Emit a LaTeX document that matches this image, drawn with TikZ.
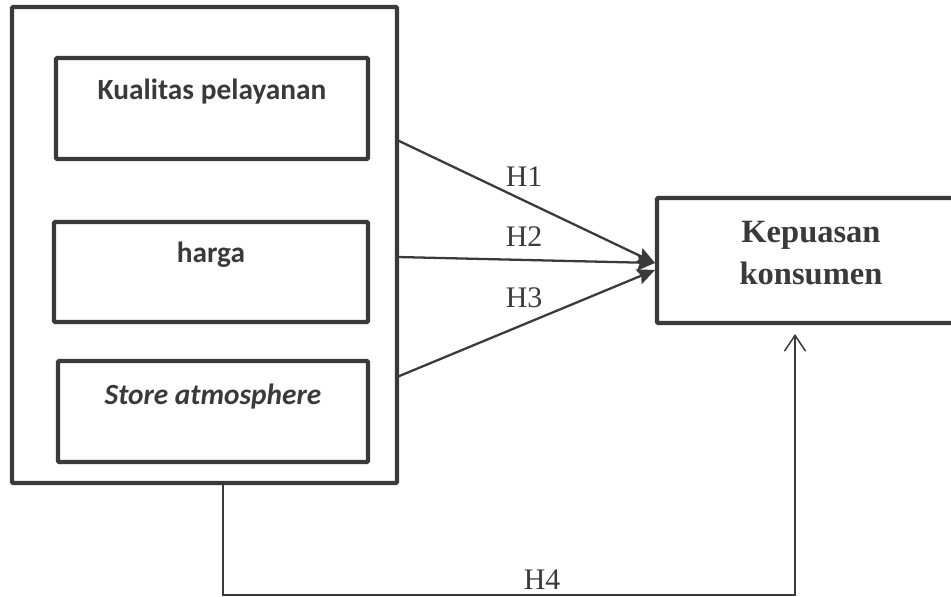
\documentclass[tikz,border=0pt]{standalone}
\usepackage{fontspec}
\setmainfont{Liberation Serif}
\newfontfamily\calib{Carlito}
\usetikzlibrary{arrows.meta,positioning}
\definecolor{ink}{HTML}{3A3A3A}
\tikzset{
  varbox/.style={draw=ink,line width=2.4pt,rounded corners=0.6pt,inner sep=0pt},
  vartext/.style={anchor=base,text=ink,font=\calib\bfseries\fontsize{16.7}{19}\selectfont},
  hlabel/.style={text=ink,font=\fontsize{17}{20}\selectfont},
  hyparrow/.style={draw=ink,line width=1.3pt,-{Stealth[length=10pt,width=9pt,inset=1.5pt]}},
  backarrow/.style={draw=ink,line width=0.85pt,-{Straight Barb[length=9pt,width=12pt]}}
}
\begin{document}
\begin{tikzpicture}[x=0.02cm,y=-0.02cm]
    \useasboundingbox (0,0) rectangle (951,597);
    % independent variables
    \node[varbox,minimum width=7.7cm,minimum height=9.52cm] (grp) at (204.5,245) {};
    \node[varbox,minimum width=6.24cm,minimum height=2.02cm] (kualitas) at (212,108.5) {};
    \node[varbox,minimum width=6.28cm,minimum height=2cm] (harga) at (211,272) {};
    \node[varbox,minimum width=6.2cm,minimum height=2.02cm] (store) at (213,411.5) {};
    \node[vartext] (kualitastxt) at ([yshift=-0.88cm]kualitas.north) {Kualitas pelayanan};
    \node[vartext] (hargatxt) at ([yshift=-0.86cm]harga.north) {harga};
    \node[vartext] (storetxt) at ([yshift=-0.92cm]store.north) {\itshape Store atmosphere};
    % dependent variable
    \node[varbox,minimum width=6.16cm,minimum height=2.5cm] (kepuasan) at (811,260.5) {};
    \node[text=ink,align=center,font=\bfseries\fontsize{18.5}{23.8}\selectfont] (kepuasantxt) at (811,253) {Kepuasan\\konsumen};
    % hypotheses
    \coordinate (h1s) at (397,140);
    \coordinate (h2s) at (397,257);
    \coordinate (h3s) at (397,377);
    \coordinate (h12e) at (655,263);
    \coordinate (h3e) at (655,270);
    \draw[hyparrow] (h1s) -- (h12e);
    \draw[hyparrow] (h2s) -- (h12e);
    \draw[hyparrow] (h3s) -- (h3e);
    \node[hlabel] (h1) at (524,177) {H1};
    \node[hlabel] (h2) at (524,237) {H2};
    \node[hlabel] (h3) at (524,298) {H3};
    \coordinate (h4s) at (223,485);
    \coordinate (h4b) at (223,595);
    \coordinate (h4e) at (795,334);
    \draw[backarrow] (h4s) -- (h4b) -| (h4e);
    \node[hlabel] (h4) at (542,580) {H4};
\end{tikzpicture}
\end{document}
